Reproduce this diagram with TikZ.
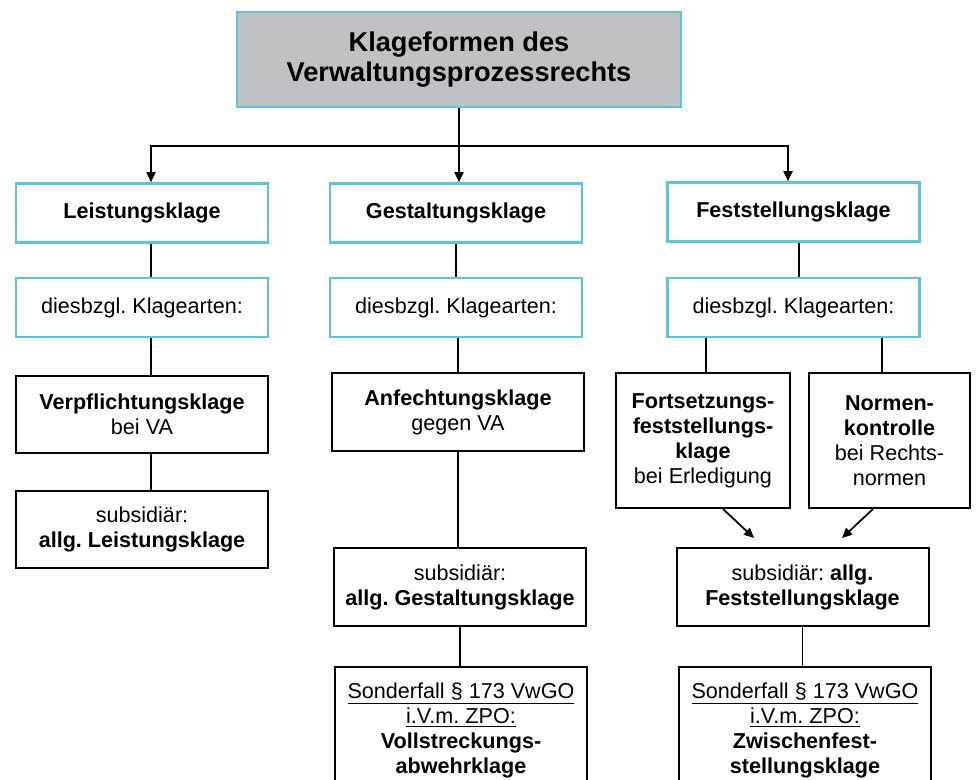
\documentclass[tikz,border=0pt]{standalone}
\usepackage{fontspec}
\setmainfont{Liberation Sans}
\usetikzlibrary{arrows.meta,positioning}
\definecolor{rahmen}{RGB}{90,198,214}
\definecolor{titelgrau}{RGB}{192,193,196}
\frenchspacing
\begin{document}
\begin{tikzpicture}[x=0.5pt,y=-0.5pt,
  kasten/.style={draw=black,line width=1pt,align=center,minimum width=126pt,inner sep=1pt,font=\fontsize{10.8}{12.5}\selectfont},
  ckasten/.style={kasten,draw=rahmen,line width=1.3pt,minimum height=29.5pt},
  pfeil/.style={-{Triangle[length=5pt,width=4.5pt]},line width=0.9pt},
  linie/.style={line width=0.9pt}]
	\useasboundingbox (0,0) rectangle (980,780);
	\node[kasten,draw=rahmen,fill=titelgrau,line width=1.3pt,minimum width=222pt,minimum height=47.5pt,font=\bfseries\fontsize{13.6}{15}\selectfont] (titel) at (459,59.5) {Klageformen des\\Verwaltungsprozessrechts};
	\node[ckasten] (leist) at (142,213) {\textbf{Leistungsklage}};
	\node[ckasten] (gest) at (456,213) {\textbf{Gestaltungsklage}};
	\node[ckasten] (fest) at (793.5,212) {\textbf{Feststellungsklage}};
	\node[ckasten] (larten) at (142,307.5) {diesbzgl. Klagearten:};
	\node[ckasten] (garten) at (456,307.5) {diesbzgl. Klagearten:};
	\node[ckasten] (farten) at (793.5,307.5) {diesbzgl. Klagearten:};
	\node[kasten,minimum height=38.5pt] (verpf) at (142,414.5) {\textbf{Verpflichtungsklage}\\bei VA};
	\node[kasten,minimum height=39pt] (anf) at (458,412) {\textbf{Anfechtungsklage}\\gegen VA};
	\node[kasten,minimum width=87pt,minimum height=67.5pt] (fort) at (703,440.5) {\textbf{Fortsetzungs-}\\\textbf{feststellungs-}\\\textbf{klage}\\bei Erledigung};
	\node[kasten,minimum width=80.5pt,minimum height=67.5pt] (normen) at (889.5,440.5) {\textbf{Normen-}\\\textbf{kontrolle}\\bei Rechts-\\normen};
	\node[kasten,minimum height=38.5pt] (subsL) at (142,529.5) {subsidiär:\\\textbf{allg. Leistungsklage}};
	\node[kasten,minimum height=39pt] (subsG) at (460,587) {subsidiär:\\\textbf{allg. Gestaltungsklage}};
	\node[kasten,minimum height=39pt] (subsF) at (802.5,587) {subsidiär: \textbf{allg.}\\\textbf{Feststellungsklage}};
	\node[kasten,anchor=north,minimum height=63.5pt] (sondG) at (461,666) {\underline{Sonderfall \S\ 173 VwGO}\\\underline{i.V.m. ZPO:}\\\textbf{Vollstreckungs-}\\\textbf{abwehrklage}};
	\node[kasten,anchor=north,minimum height=63.5pt] (sondF) at (805,666) {\underline{Sonderfall \S\ 173 VwGO}\\\underline{i.V.m. ZPO:}\\\textbf{Zwischenfest-}\\\textbf{stellungsklage}};
	\coordinate (knoten) at (459,146);
	\coordinate (e1) at (754,538);
	\coordinate (e2) at (842,538);
	\draw[linie] (titel.south) -- (knoten);
	\draw[pfeil] (knoten) -| ([xshift=4.5pt]leist.north);
	\draw[pfeil] (knoten) -| ([xshift=-2.75pt]fest.north);
	\draw[pfeil] (knoten) -- (knoten |- gest.north);
	\draw[linie] ([xshift=4.5pt]leist.south) -- ([xshift=4.5pt]larten.north);
	\draw[linie] ([xshift=4.5pt]larten.south) -- ([xshift=4.5pt]verpf.north);
	\draw[linie] ([xshift=4.5pt]verpf.south) -- ([xshift=4.5pt]subsL.north);
	\draw[linie] (gest.south) -- (garten.north);
	\draw[linie] (anf.north |- garten.south) -- (anf.north);
	\draw[linie] (anf.south) -- (anf.south |- subsG.north);
	\draw[linie] (subsG.south) -- (subsG.south |- sondG.north);
	\draw[linie] ([xshift=2.75pt]fest.south) -- ([xshift=2.75pt]farten.north);
	\draw[linie] ([xshift=1.5pt]fort.north) -- ([xshift=1.5pt]fort.north |- farten.south);
	\draw[linie] ([xshift=-3.75pt]normen.north) -- ([xshift=-3.75pt]normen.north |- farten.south);
	\draw[pfeil] ([xshift=10pt]fort.south) -- (e1);
	\draw[pfeil] ([xshift=-8.25pt]normen.south) -- (e2);
	\draw[linie] (subsF.south) -- (subsF.south |- sondF.north);
\end{tikzpicture}
\end{document}
